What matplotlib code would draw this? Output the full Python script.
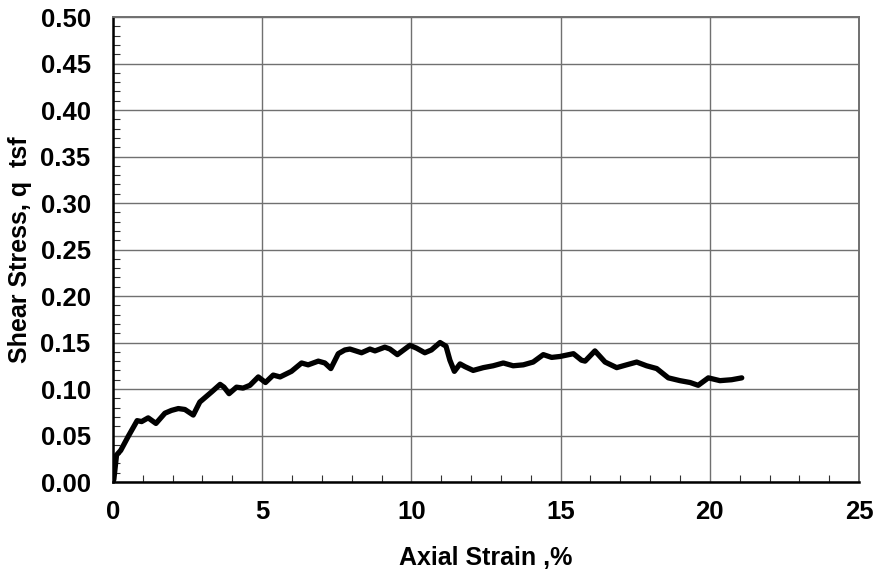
import matplotlib.pyplot as plt
from matplotlib.ticker import MultipleLocator

plt.rcParams['font.family'] = ['Liberation Sans', 'DejaVu Sans']
plt.rcParams['font.weight'] = 'bold'

strain = [0.0, 0.03, 0.12, 0.26, 0.51, 0.81, 0.96, 1.18, 1.44, 1.74, 1.96, 2.19, 2.41,
          2.69, 2.91, 3.31, 3.59, 3.72, 3.89, 4.14, 4.36, 4.59, 4.87, 5.11, 5.37, 5.6,
          5.98, 6.32, 6.54, 6.88, 7.1, 7.3, 7.55, 7.77, 7.94, 8.33, 8.61, 8.78, 9.11,
          9.28, 9.53, 9.95, 10.17, 10.45, 10.67, 10.96, 11.16, 11.29, 11.44, 11.63,
          11.8, 12.07, 12.41, 12.74, 13.08, 13.41, 13.75, 14.08, 14.42, 14.7, 14.98,
          15.43, 15.7, 15.82, 16.15, 16.49, 16.88, 17.21, 17.55, 17.88, 18.22, 18.61,
          19.0, 19.34, 19.61, 19.95, 20.34, 20.73, 21.07]
stress = [0.0, 0.003, 0.029, 0.034, 0.049, 0.066, 0.065, 0.069, 0.063, 0.074, 0.077,
          0.079, 0.078, 0.072, 0.086, 0.097, 0.105, 0.102, 0.095, 0.102, 0.101, 0.104,
          0.113, 0.107, 0.115, 0.113, 0.119, 0.128, 0.126, 0.130, 0.128, 0.122, 0.138,
          0.142, 0.143, 0.139, 0.143, 0.141, 0.145, 0.143, 0.137, 0.147, 0.144, 0.139,
          0.142, 0.150, 0.146, 0.131, 0.119, 0.127, 0.124, 0.120, 0.123, 0.125, 0.128,
          0.125, 0.126, 0.129, 0.137, 0.134, 0.135, 0.138, 0.131, 0.130, 0.141, 0.129,
          0.123, 0.126, 0.129, 0.125, 0.122, 0.112, 0.109, 0.107, 0.104, 0.112, 0.109,
          0.110, 0.112]

fig = plt.figure(figsize=(8.73, 5.77), dpi=100)
ax = fig.add_axes([0.1294, 0.1646, 0.8546, 0.8059])

ax.plot(strain, stress, color='black', lw=3.8, solid_joinstyle='round',
        solid_capstyle='round')

ax.set_xlim(0, 25)
ax.set_ylim(0, 0.5)
ax.xaxis.set_major_locator(MultipleLocator(5))
ax.xaxis.set_minor_locator(MultipleLocator(1))
ax.yaxis.set_major_locator(MultipleLocator(0.05))
ax.yaxis.set_minor_locator(MultipleLocator(0.01))
ax.yaxis.set_major_formatter(lambda v, p: f'{v:.2f}')

ax.grid(True, which='major', color='#707070', lw=1.0)
ax.set_axisbelow(True)
ax.tick_params(which='major', length=0, labelsize=18.5, pad=16)
ax.tick_params(axis='x', which='major', pad=13)
ax.tick_params(which='minor', direction='in', length=5, width=0.8, color='#333333')

for s in ['left', 'bottom']:
    ax.spines[s].set_linewidth(1.8)
    ax.spines[s].set_color('black')
for s in ['top', 'right']:
    ax.spines[s].set_linewidth(1.4)
    ax.spines[s].set_color('#707070')

ax.set_xlabel('Axial Strain ,%', fontsize=18, fontweight='bold', labelpad=16)
ax.set_ylabel('Shear Stress, q  tsf', fontsize=18, fontweight='bold', labelpad=6)

fig.savefig('out.png', dpi=100)
